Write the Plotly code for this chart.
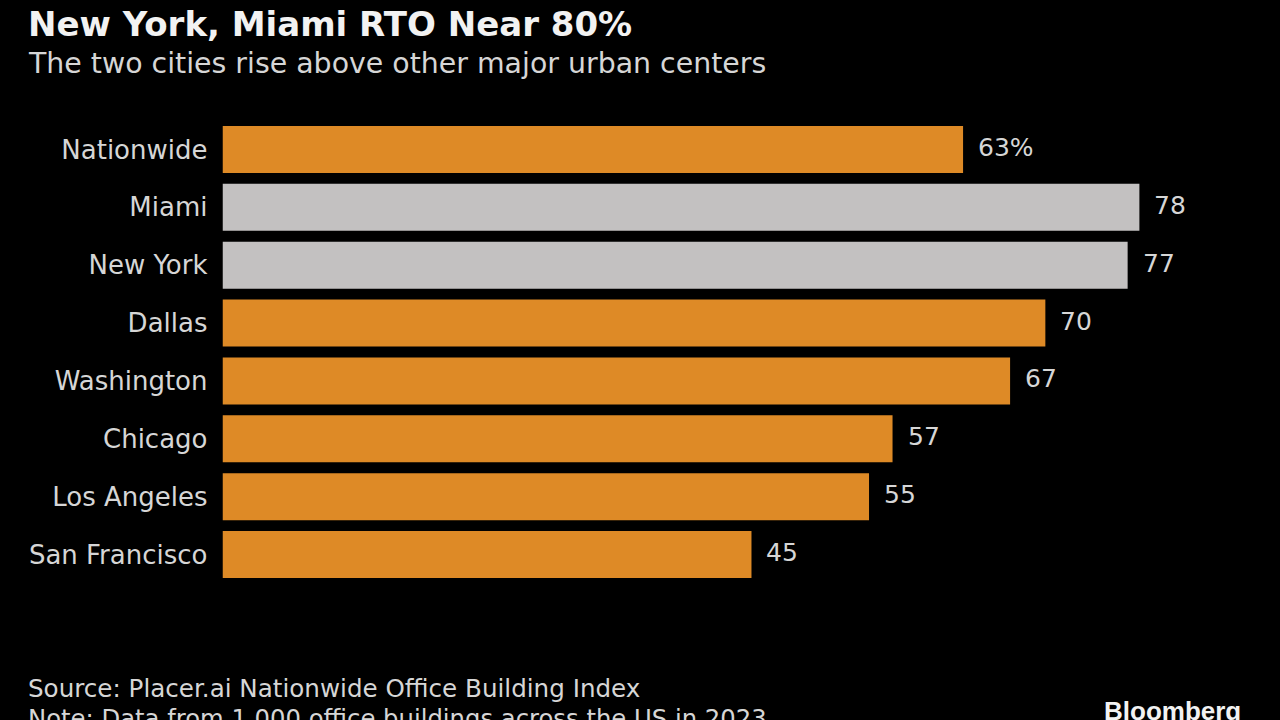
import plotly.graph_objects as go

categories = ["Nationwide","Miami","New York","Dallas","Washington","Chicago","Los Angeles","San Francisco"]
values = [63,78,77,70,67,57,55,45]
labels = ["63%","78","77","70","67","57","55","45"]
ORANGE = "#DE8A26"
GREY = "#C3C1C1"
colors = [ORANGE,GREY,GREY,ORANGE,ORANGE,ORANGE,ORANGE,ORANGE]
FONT = "DejaVu Sans"
TXT = "#D6D6D6"

fig = go.Figure(go.Bar(
    y=categories, x=values, orientation="h",
    marker=dict(color=colors, line=dict(width=0)),
    width=0.81,
))
notes = [
    dict(text=t, x=v, y=c, xref="x", yref="y", xanchor="left", yanchor="middle", xshift=13, yshift=2,
         showarrow=False, font=dict(family=FONT, size=25, color=TXT))
    for t, v, c in zip(labels, values, categories)
]
def txt(text, ypx, size, color=TXT, x=26, anchor="left", family=FONT):
    return dict(text=text, x=x/1280, y=1-ypx/720, xref="paper", yref="paper", xanchor=anchor, yanchor="middle",
                showarrow=False, font=dict(family=family, size=size, color=color))
notes += [
    txt("<b>New York, Miami RTO Near 80%</b>", 24, 34, "#F2F2F2"),
    txt("The two cities rise above other major urban centers", 63, 28.4),
    txt("Source: Placer.ai Nationwide Office Building Index", 688, 24.6),
    txt("Note: Data from 1,000 office buildings across the US in 2023", 718, 24.3),
    txt("<b>Bloomberg</b>", 711, 26, "#F2F2F2", x=1243, anchor="right", family="Liberation Sans"),
]
fig.update_layout(
    width=1280, height=720, paper_bgcolor="black", plot_bgcolor="black",
    margin=dict(l=0, r=0, t=0, b=0), showlegend=False, autosize=False,
    xaxis=dict(domain=[222.5/1280, 1], range=[0, 1057.5/11.755], visible=False),
    yaxis=dict(domain=[1-(120.5+58*8-1)/720, 1-120.5/720], autorange="reversed", showgrid=False, showline=False,
               ticks="", ticklabelstandoff=14, tickfont=dict(family=FONT, size=26, color=TXT)),
    annotations=notes,
)
fig.write_html("out.html", config=dict(displayModeBar=False),
               post_script="document.body.style.margin='0';document.body.style.background='black';document.body.style.overflow='hidden';")
